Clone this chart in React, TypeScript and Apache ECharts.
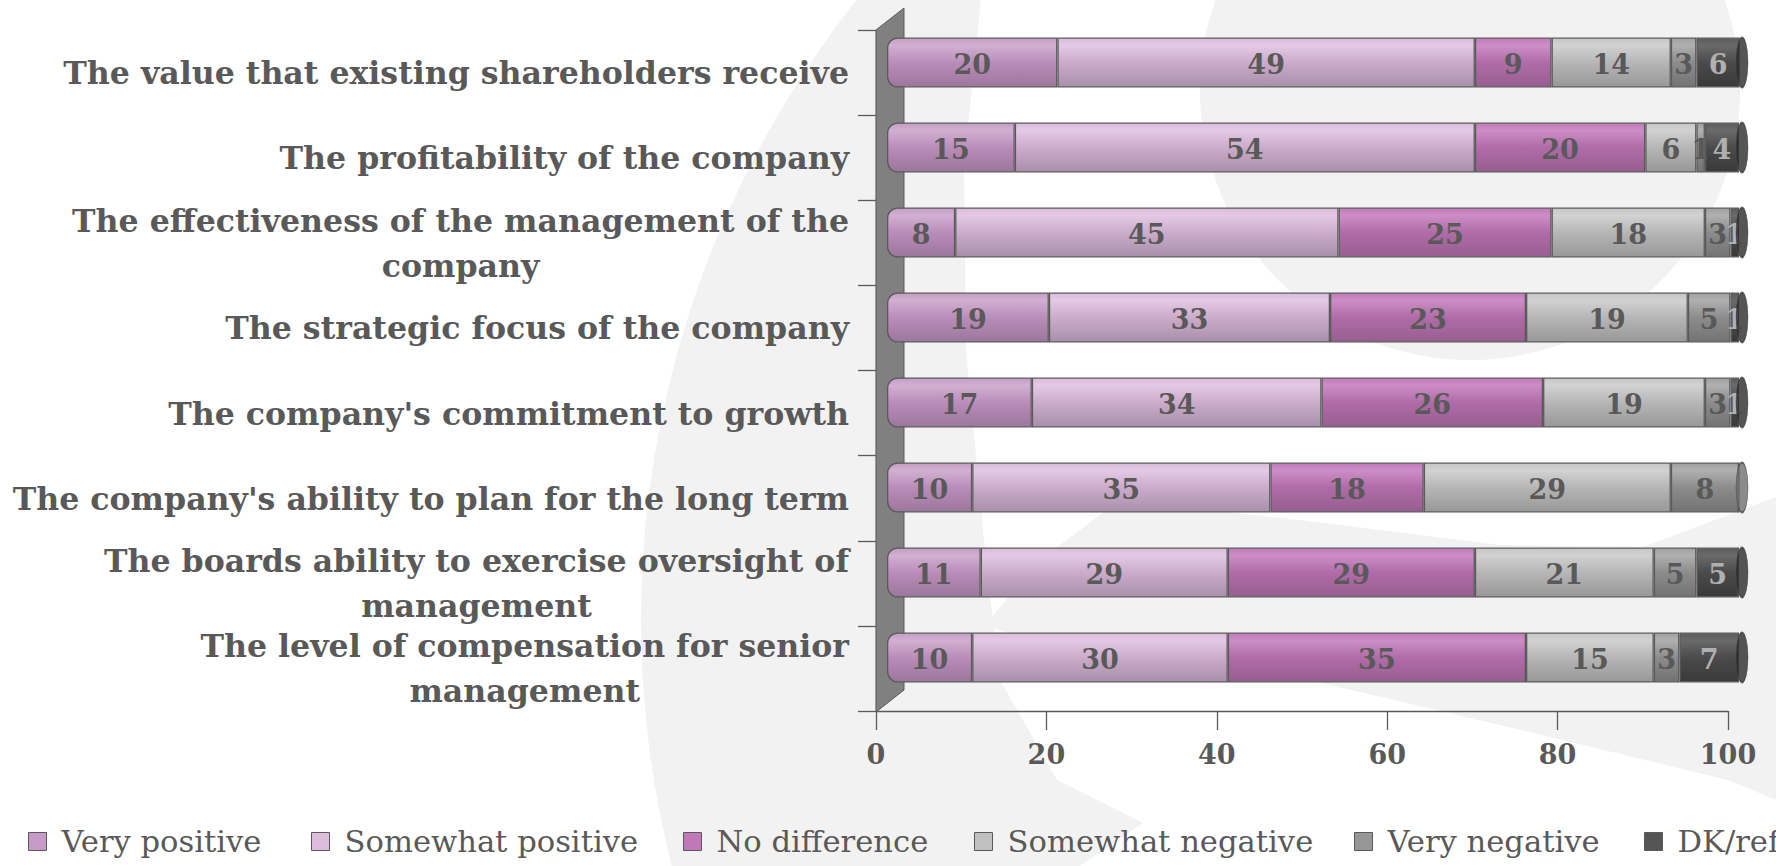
import React, { useEffect, useRef } from "react";
import * as echarts from "echarts";

const categories = [
  "The value that existing shareholders receive",
  "The profitability of the company",
  "The effectiveness of the management of the\ncompany",
  "The strategic focus of the company",
  "The company's commitment to growth",
  "The company's ability to plan for the long term",
  "The boards ability to exercise oversight of\nmanagement",
  "The level of compensation for senior\nmanagement",
];

const seriesNames = [
  "Very positive",
  "Somewhat positive",
  "No difference",
  "Somewhat negative",
  "Very negative",
  "DK/refused",
];

const veryPositive = [20, 15, 8, 19, 17, 10, 11, 10];
const somewhatPositive = [49, 54, 45, 33, 34, 35, 29, 30];
const noDifference = [9, 20, 25, 23, 26, 18, 29, 35];
const somewhatNegative = [14, 6, 18, 19, 19, 29, 21, 15];
const veryNegative = [3, 1, 3, 5, 3, 8, 5, 3];
const dkRefused = [6, 4, 1, 1, 1, 0, 5, 7];

const xTicks = [0, 20, 40, 60, 80, 100];

const FONT = "DejaVu Serif";
const TXT = "#595959";

// [top, highlight, mid, bottom, legend, label]
const palette = [
  ["#c59cc5", "#d2b0d2", "#b98db9", "#9c769c", "#c69bc6", TXT],
  ["#dbbbdb", "#e4c9e4", "#cbaccb", "#a98fa9", "#dcbddc", TXT],
  ["#c27abb", "#cc8ec6", "#b06ca8", "#975e90", "#c078b8", TXT],
  ["#c6c6c6", "#d2d2d2", "#b6b6b6", "#989898", "#c0c0c0", TXT],
  ["#a0a0a0", "#b0b0b0", "#8c8c8c", "#737373", "#969696", TXT],
  ["#5c5c5c", "#6a6a6a", "#4b4b4b", "#393939", "#555555", "#b0b0b0"],
];

const legendX = [28, 311, 683, 974, 1354, 1644];

function measure(text: string, font: string): number {
  const c = document.createElement("canvas").getContext("2d");
  if (!c) return text.length * 18;
  c.font = font;
  return c.measureText(text).width;
}

export default function App() {
  const ref = useRef<HTMLDivElement>(null);

  useEffect(() => {
    document.body.style.margin = "0";
    if (!ref.current) return;
    const chart = echarts.init(ref.current, null, { renderer: "svg" });

    const values = [veryPositive, somewhatPositive, noDifference, somewhatNegative, veryNegative, dkRefused];
    const LABEL_SIZE = 31.6;
    const labelFont = `bold ${LABEL_SIZE}px "${FONT}"`;
    const baseRich = { fontFamily: FONT, fontSize: LABEL_SIZE, fontWeight: "bold", color: TXT, lineHeight: 45 };
    const rich: Record<string, any> = { f: { ...baseRich } };
    categories.forEach((c, i) => {
      if (c.includes("\n")) {
        const [l1] = c.split("\n");
        rich["c" + i] = { ...baseRich, width: measure(l1, labelFont), align: "center" };
      }
    });

    const barSeries = values.map((arr, si) => {
      const p = palette[si];
      return {
        name: seriesNames[si],
        type: "bar",
        stack: "total",
        xAxisIndex: 1,
        yAxisIndex: 1,
        barWidth: 50,
        clip: true,
        data: arr.map((v) => ({ value: v })),
        itemStyle: {
          color: new echarts.graphic.LinearGradient(0, 0, 0, 1, [
            { offset: 0, color: p[0] },
            { offset: 0.15, color: p[1] },
            { offset: 0.5, color: p[2] },
            { offset: 1, color: p[3] },
          ]),
          borderColor: "#5a5a5a",
          borderWidth: 1.3,
          borderRadius: si === 0 ? [10, 0, 0, 10] : 0,
        },
        label: {
          show: true,
          position: "inside",
          offset: [0, 2],
          fontFamily: FONT,
          fontSize: 27,
          fontWeight: "bold",
          color: p[5],
          formatter: (d: any) => (d.value ? String(d.value) : ""),
        },
        z: 3,
      };
    });

    const capData = categories.map((_, i) => {
      let last = 0;
      let sum = 0;
      values.forEach((arr, si) => {
        sum += arr[i];
        if (arr[i] > 0) last = si;
      });
      return {
        value: [Math.min(sum, 100), i],
        itemStyle: { color: last === 5 ? "#2b2b2b" : "#6e6e6e" },
      };
    });

    const option: any = {
      animation: false,
      backgroundColor: "#ffffff",
      textStyle: { fontFamily: FONT },
      graphic: {
        elements: [
          { type: "circle", z: -10, silent: true, shape: { cx: 1641, cy: 620, r: 1000 }, style: { fill: "#f2f2f2" } },
          {
            type: "polygon",
            z: -9,
            silent: true,
            shape: {
              points: [
                [981, 0], [964, 166], [966, 350], [985, 550], [1000, 680], [1057, 780],
                [1143, 823], [1080, 866], [1776, 866], [1776, 0],
              ],
            },
            style: { fill: "#ffffff" },
          },
          { type: "circle", z: -8, silent: true, shape: { cx: 1470, cy: 90, r: 270 }, style: { fill: "#f2f2f2" } },
          {
            type: "polygon",
            z: -8,
            silent: true,
            shape: {
              points: [
                [985, 625], [1040, 560], [1120, 500], [1300, 520], [1500, 545], [1643, 547],
                [1776, 497], [1776, 800], [1728, 780], [1500, 725], [1309, 680], [1150, 655], [1040, 645],
              ],
            },
            style: { fill: "#f2f2f2" },
          },
          {
            type: "polygon",
            z: 1,
            silent: true,
            shape: { points: [[876, 712], [876, 30], [904, 8], [904, 690]] },
            style: { fill: "#808080", stroke: "#5a5a5a", lineWidth: 1 },
          },
        ],
      },
      legend: seriesNames.map((n, i) => ({
        data: [
          {
            name: n,
            icon: "rect",
            itemStyle: { color: palette[i][4], borderColor: "#5a5a5a", borderWidth: 1 },
          },
        ],
        left: legendX[i],
        top: 826,
        itemWidth: 18,
        itemHeight: 18,
        itemGap: 0,
        padding: 0,
        selectedMode: false,
        textStyle: { fontFamily: FONT, fontSize: 30.6, color: TXT, padding: [0, 0, 0, 10] },
      })),
      grid: [
        { left: 876, right: 48, top: 30, bottom: 155 },
        { left: 887, right: 37, top: 20, bottom: 166 },
      ],
      xAxis: [
        {
          gridIndex: 0,
          type: "value",
          min: xTicks[0],
          max: xTicks[xTicks.length - 1],
          interval: 20,
          axisLine: { show: true, lineStyle: { color: "#5a5a5a", width: 1.3 } },
          axisTick: { show: true, length: 19, lineStyle: { color: "#5a5a5a", width: 1.3 } },
          splitLine: { show: false },
          axisLabel: { margin: 30, fontFamily: FONT, fontSize: 27, fontWeight: "bold", color: TXT },
        },
        { gridIndex: 1, type: "value", min: 0, max: 100, show: false },
      ],
      yAxis: [
        {
          gridIndex: 0,
          type: "category",
          inverse: true,
          data: categories,
          axisLine: { show: true, lineStyle: { color: "#5a5a5a", width: 1.3 } },
          axisTick: { show: true, length: 18, lineStyle: { color: "#5a5a5a", width: 1.3 } },
          axisLabel: {
            interval: 0,
            margin: 27,
            fontFamily: FONT,
            fontSize: LABEL_SIZE,
            fontWeight: "bold",
            color: TXT,
            lineHeight: 45,
            rich,
            formatter: (v: string, idx: number) => {
              if (v.includes("\n")) {
                const [l1, l2] = v.split("\n");
                return `{f|${l1}}\n{c${idx}|${l2}}`;
              }
              return v;
            },
          },
        },
        { gridIndex: 1, type: "category", inverse: true, data: categories, show: false },
      ],
      series: [
        ...barSeries,
        {
          type: "scatter",
          xAxisIndex: 1,
          yAxisIndex: 1,
          symbol: "circle",
          symbolSize: [12, 50],
          symbolOffset: [3, 0],
          data: capData,
          itemStyle: { borderColor: "#444444", borderWidth: 1 },
          z: 4,
          silent: true,
        },
      ],
    };

    chart.setOption(option);
    return () => chart.dispose();
  }, []);

  return <div ref={ref} style={{ width: 1776, height: 866 }} />;
}
